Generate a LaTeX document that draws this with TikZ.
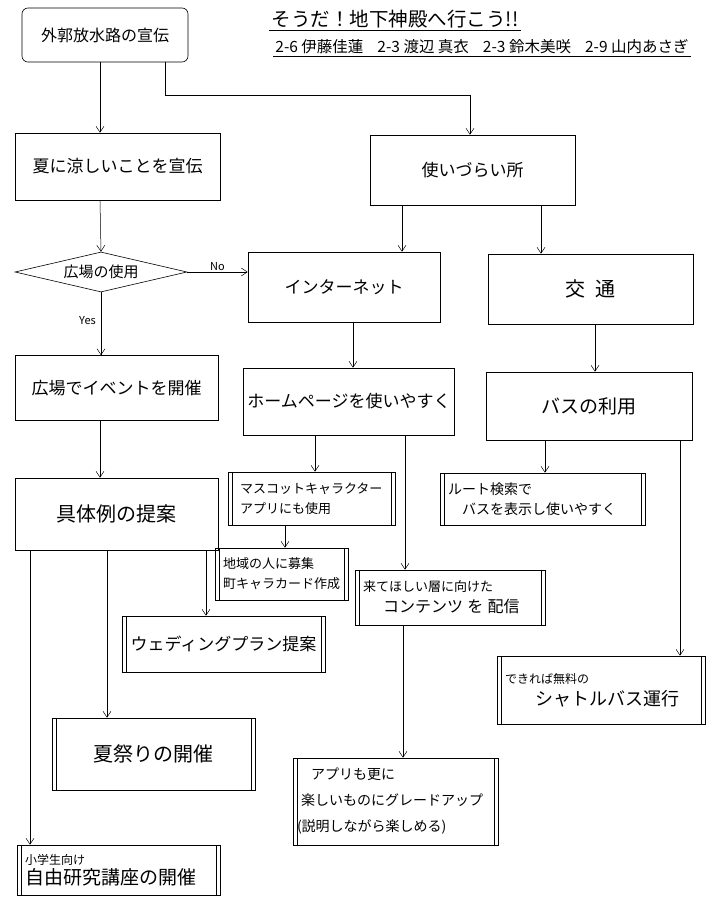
\documentclass[tikz,border=0pt]{standalone}
\usepackage{fontspec}
\newfontfamily\jp{Noto Sans CJK JP}
\usetikzlibrary{arrows.meta,shapes.geometric}
\begin{document}
\begin{tikzpicture}[x=1pt,y=-1pt,line width=0.6pt,
  box/.style={draw,rectangle,inner sep=4pt,font=\jp\fontsize{17}{21}\selectfont},
  sub/.style={box,path picture={
    \draw ([xshift=4pt]path picture bounding box.north west) -- ([xshift=4pt]path picture bounding box.south west);
    \draw ([xshift=-4pt]path picture bounding box.north east) -- ([xshift=-4pt]path picture bounding box.south east);}},
  arr/.style={-{Straight Barb[length=6pt,width=8pt]},line width=0.5pt},
  ln/.style={line width=0.5pt},
  lbl/.style={font=\jp\fontsize{11}{13}\selectfont,inner sep=1pt}]
\useasboundingbox (0,0) rectangle (717,899);
\fill[white] (0,0) rectangle (717,899);

% column coordinates
\coordinate (xA) at (100,0);
\coordinate (k1) at (165,95);
\coordinate (k2) at (470,95);
\coordinate (xH1) at (402,0);
\coordinate (xH2) at (541,0);
\coordinate (xI) at (353,0);
\coordinate (xT) at (595,0);
\coordinate (xP1) at (315,0);
\coordinate (xP2) at (405,0);
\coordinate (xB1) at (545,0);
\coordinate (xB2) at (680,0);
\coordinate (xM) at (285,0);
\coordinate (xC1) at (206,0);
\coordinate (xC2) at (107,0);
\coordinate (xC3) at (30,0);
\coordinate (xK) at (403,0);

% title
\node[font=\jp\fontsize{19.5}{23}\selectfont,inner sep=2pt] (title) at (395,19) {そうだ！地下神殿へ行こう!!};
\draw[ln] (title.south west) -- (title.south east);
\node[font=\jp\fontsize{15.5}{18}\selectfont,inner sep=2pt] (names) at (482,47) {2-6 伊藤佳蓮\hspace{14pt}2-3 渡辺 真衣\hspace{14pt}2-3 鈴木美咲\hspace{14pt}2-9 山内あさぎ};
\draw[ln] (names.south west) -- (names.south east);

% nodes
\node[box,rounded corners=6pt,minimum width=166pt,minimum height=54pt,font=\jp\fontsize{16}{20}\selectfont] (b1) at (105,35) {外郭放水路の宣伝};
\node[box,minimum width=205pt,minimum height=67pt] (summer) at (117.5,166.5) {夏に涼しいことを宣伝};
\node[box,minimum width=205pt,minimum height=70pt] (hard) at (472.5,170) {使いづらい所};
\node[draw,diamond,aspect=4,inner sep=0pt,minimum width=172pt,minimum height=40pt,font=\jp\fontsize{15}{18}\selectfont] (dia) at (101,272) {広場の使用};
\node[box,minimum width=192pt,minimum height=70pt] (internet) at (344,287) {インターネット};
\node[box,minimum width=205pt,minimum height=70pt,font=\jp\fontsize{20}{24}\selectfont] (traffic) at (590.5,289) {交\hspace{10pt}通};
\node[box,minimum width=203pt,minimum height=65pt] (plaza) at (116.5,388) {広場でイベントを開催};
\node[box,minimum width=202pt,minimum height=67pt] (home) at (349,401.5) {ホームページを使いやすく};
\node[box,minimum width=206pt,minimum height=68pt,font=\jp\fontsize{19}{23}\selectfont] (bus) at (589,406) {バスの利用};
\node[box,minimum width=203pt,minimum height=72pt,font=\jp\fontsize{20}{24}\selectfont] (conc) at (116.5,514) {具体例の提案};
\node[sub,minimum width=167pt,minimum height=53pt,text width=151pt,align=left,font=\jp\fontsize{13}{20}\selectfont] (mascot) at (311.5,498.5) {\hspace{4pt}マスコットキャラクター\\\hspace{4pt}アプリにも使用};
\node[sub,minimum width=205pt,minimum height=52pt,text width=189pt,align=left,font=\jp\fontsize{14}{20}\selectfont] (route) at (542.5,499) {ルート検索で\\\hspace{14pt}バスを表示し使いやすく};
\node[sub,minimum width=133pt,minimum height=52pt,text width=117pt,align=left,font=\jp\fontsize{13}{20}\selectfont] (local) at (281.5,574) {地域の人に募集\\町キャラカード作成};
\node[sub,minimum width=190pt,minimum height=55pt,text width=174pt,align=left,font=\jp\fontsize{13}{21}\selectfont] (content) at (450,597.5) {来てほしい層に向けた\\\hspace{20pt}{\fontsize{16}{21}\selectfont コンテンツ を 配信}};
\node[sub,minimum width=203pt,minimum height=56pt] (wed) at (223.5,644) {ウェディングプラン提案};
\node[sub,minimum width=208pt,minimum height=68pt,text width=192pt,align=left,font=\jp\fontsize{12}{22}\selectfont] (shuttle) at (601,690) {できれば無料の\\\hspace{30pt}{\fontsize{18}{22}\selectfont シャトルバス運行}};
\node[sub,minimum width=203pt,minimum height=72pt,font=\jp\fontsize{20}{24}\selectfont] (mats) at (153.5,754) {夏祭りの開催};
\node[sub,minimum width=205pt,minimum height=87pt,inner sep=2pt,text width=201pt,align=left,font=\jp\fontsize{14}{26}\selectfont] (app) at (395.5,801.5) {\hspace{16pt}アプリも更に\\\hspace{6pt}楽しいものにグレードアップ\\\hspace{2pt}(説明しながら楽しめる)};
\node[sub,minimum width=203pt,minimum height=50pt,text width=187pt,align=left,font=\jp\fontsize{12}{20}\selectfont] (kids) at (118.5,870) {小学生向け\\{\fontsize{19}{20}\selectfont 自由研究講座の開催}};

% connectors
\draw[arr] (b1.south -| xA) -- (summer.north -| xA);
\draw[arr] (b1.south -| k1) -- (k1) -- (k2) -- (hard.north -| k2);
\draw[arr] (summer.south -| xA) -- (dia.north);
\draw[arr] (dia.east) -- (internet.west |- dia.east) node[lbl,midway,above] (no) {No};
\draw[arr] (dia.south) -- (plaza.north -| dia.south) node[lbl,pos=0.45,left=4pt] (yes) {Yes};
\draw[arr] (hard.south -| xH1) -- (internet.north -| xH1);
\draw[arr] (hard.south -| xH2) -- (traffic.north -| xH2);
\draw[arr] (internet.south -| xI) -- (home.north -| xI);
\draw[arr] (traffic.south -| xT) -- (bus.north -| xT);
\draw[arr] (plaza.south -| xA) -- (conc.north -| xA);
\draw[arr] (home.south -| xP1) -- (mascot.north -| xP1);
\draw[arr] (home.south -| xP2) -- (content.north -| xP2);
\draw[arr] (bus.south -| xB1) -- (route.north -| xB1);
\draw[arr] (bus.south -| xB2) -- (shuttle.north -| xB2);
\draw[arr] (mascot.south -| xM) -- (local.north -| xM);
\draw[arr] (conc.south -| xC1) -- (wed.north -| xC1);
\draw[arr] (conc.south -| xC2) -- (mats.north -| xC2);
\draw[arr] (conc.south -| xC3) -- (kids.north -| xC3);
\draw[arr] (content.south -| xK) -- (app.north -| xK);
\end{tikzpicture}
\end{document}
